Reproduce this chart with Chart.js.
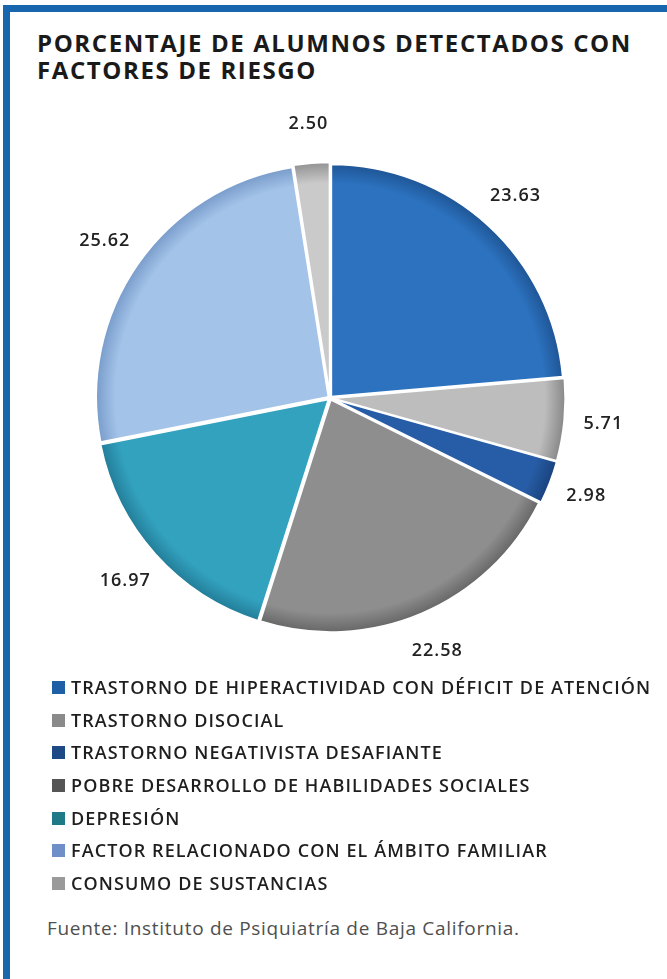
<!DOCTYPE html>
<html lang="es">
<head>
<meta charset="UTF-8">
<title>Porcentaje de alumnos detectados con factores de riesgo</title>
<script src="https://cdn.jsdelivr.net/npm/chart.js"></script>
<style>
  body { margin: 0; width: 667px; height: 979px; background: #fff; position: relative; overflow: hidden; font-family: "Open Sans", "DejaVu Sans", sans-serif; }
  #frame { position: absolute; left: 3px; top: 5px; right: 0; bottom: 0; border-top: 7px solid #1866ae; border-left: 7px solid #1866ae; }
  #title { position: absolute; left: 37px; top: 29px; margin: 0; font-size: 24px; line-height: 27px; font-weight: 700; letter-spacing: 1.6px; color: #1a1a1a; }
  #chartBox { position: absolute; left: 0; top: 100px; width: 667px; height: 580px; }
  #legend { position: absolute; left: 52px; top: 673px; margin: 0; padding: 0; list-style: none; }
  #legend li { height: 32.7px; line-height: 28px; font-size: 18px; font-weight: 600; letter-spacing: 1.1px; color: #1e1e1e; white-space: nowrap; }
  #legend span.box { display: inline-block; width: 13px; height: 13px; margin-right: 6px; vertical-align: 0px; }
  #fuente { position: absolute; left: 47px; top: 915px; font-size: 19px; letter-spacing: 0.7px; color: #4f4f4f; margin: 0; }
</style>
</head>
<body>
<div id="frame"></div>
<h1 id="title">PORCENTAJE DE ALUMNOS DETECTADOS CON<br>FACTORES DE RIESGO</h1>
<div id="chartBox"><canvas id="pieChart"></canvas></div>
<ul id="legend"></ul>
<p id="fuente">Fuente: Instituto de Psiquiatría de Baja California.</p>

<script>
// datos del gráfico
const categorias = [
  'TRASTORNO DE HIPERACTIVIDAD CON DÉFICIT DE ATENCIÓN',
  'TRASTORNO DISOCIAL',
  'TRASTORNO NEGATIVISTA DESAFIANTE',
  'POBRE DESARROLLO DE HABILIDADES SOCIALES',
  'DEPRESIÓN',
  'FACTOR RELACIONADO CON EL ÁMBITO FAMILIAR',
  'CONSUMO DE SUSTANCIAS'
];
const porcentajes = [23.63, 5.71, 2.98, 22.58, 16.97, 25.62, 2.50];
const colores = ['#2c72bf', '#bdbdbd', '#275da6', '#8e8e8e', '#33a2bf', '#a3c3e8', '#cacaca'];
const bordes  = ['#1c4f8c', '#7f7f7f', '#183f78', '#5e5e5e', '#1f7590', '#6f93c4', '#8a8a8a'];
const marcas  = ['#1f5fa5', '#8a8a8a', '#1d4a85', '#555555', '#1e7a86', '#6f8fc9', '#9a9a9a'];

// relleno con borde oscuro (efecto biselado)
function relleno(ctx) {
  const i = ctx.dataIndex;
  const area = ctx.chart.chartArea;
  if (!area) return colores[i];
  const cx = (area.left + area.right) / 2;
  const cy = (area.top + area.bottom) / 2;
  const r = Math.min(area.right - area.left, area.bottom - area.top) / 2;
  const g = ctx.chart.ctx.createRadialGradient(cx, cy, 0, cx, cy, r);
  g.addColorStop(0, colores[i]);
  g.addColorStop(0.9, colores[i]);
  g.addColorStop(1, bordes[i]);
  return g;
}

// etiquetas de valor fuera de cada sector
const etiquetas = {
  id: 'etiquetas',
  afterDatasetsDraw(chart) {
    const c = chart.ctx;
    const meta = chart.getDatasetMeta(0);
    c.save();
    c.font = '600 18px "Open Sans", sans-serif';
    c.letterSpacing = '1px';
    c.fillStyle = '#222';
    c.textAlign = 'center';
    c.textBaseline = 'middle';
    meta.data.forEach((arc, i) => {
      const p = arc.getProps(['x', 'y', 'startAngle', 'endAngle', 'outerRadius'], true);
      const mid = (p.startAngle + p.endAngle) / 2;
      const d = p.outerRadius + 42;
      c.fillText(porcentajes[i].toFixed(2), p.x + Math.cos(mid) * d, p.y + Math.sin(mid) * d);
    });
    c.restore();
  }
};

const ctx = document.getElementById('pieChart').getContext('2d');
const pieChart = new Chart(ctx, {
  type: 'pie',
  data: {
    labels: categorias,
    datasets: [{
      data: porcentajes,
      backgroundColor: relleno,
      borderColor: '#ffffff',
      borderWidth: 2,
      offset: 7
    }]
  },
  options: {
    responsive: true,
    maintainAspectRatio: false,
    animation: false,
    layout: { padding: { top: 61, bottom: 45, left: 0, right: 7 } },
    plugins: {
      legend: { display: false },
      tooltip: { enabled: false }
    }
  },
  plugins: [etiquetas]
});

// leyenda en HTML a partir de los datos del gráfico
const ul = document.getElementById('legend');
pieChart.data.labels.forEach((txt, i) => {
  const li = document.createElement('li');
  const box = document.createElement('span');
  box.className = 'box';
  box.style.background = marcas[i];
  li.appendChild(box);
  li.appendChild(document.createTextNode(txt));
  ul.appendChild(li);
});
</script>
</body>
</html>
